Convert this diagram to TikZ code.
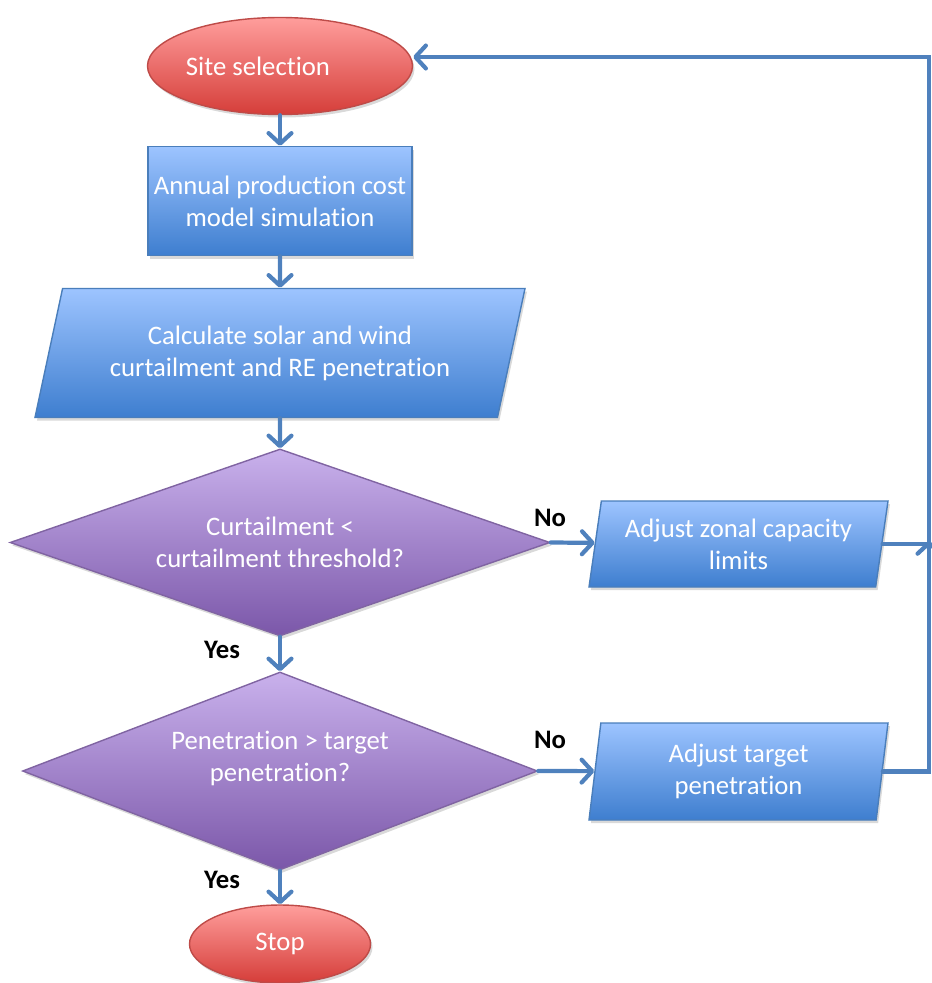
\documentclass[tikz,border=0pt]{standalone}
\usepackage{fontspec}
\setmainfont{Carlito}[Ligatures=CommonOff]
\usetikzlibrary{shapes.geometric,arrows.meta,shadows}

\definecolor{redtop}{HTML}{FF9E9C}
\definecolor{redbot}{HTML}{D53D39}
\definecolor{redline}{HTML}{BE4B48}
\definecolor{bluetop}{HTML}{9DC4FF}
\definecolor{bluebot}{HTML}{3E7ECF}
\definecolor{blueline}{HTML}{4A7EBB}
\definecolor{purptop}{HTML}{C9B1EC}
\definecolor{purpbot}{HTML}{7B57A9}
\definecolor{purpline}{HTML}{8064A2}
\definecolor{arrblue}{HTML}{4F81BD}

\newcommand{\boxfont}{\fontsize{15.2}{18.2}\selectfont}

\tikzset{
  shade/.style={drop shadow={shadow xshift=0.04cm, shadow yshift=-0.06cm, opacity=0.3}},
  startstop/.style={ellipse, draw=redline, line width=0.8pt, top color=redtop, bottom color=redbot,
    text=white, font=\boxfont, inner sep=0pt, shade},
  process/.style={rectangle, draw=blueline, line width=0.8pt, top color=bluetop, bottom color=bluebot,
    text=white, font=\boxfont, align=center, inner sep=0pt, shade},
  io/.style={trapezium, trapezium stretches body=true, draw=blueline, line width=0.8pt,
    top color=bluetop, bottom color=bluebot, text=white, font=\boxfont, align=center, inner sep=0pt, shade},
  decision/.style={diamond, draw=purpline, line width=0.8pt, top color=purptop, bottom color=purpbot,
    text=white, font=\boxfont, align=center, inner sep=0pt, shade},
  inner text/.style={text=white, font=\boxfont, align=center},
  arr/.style={arrblue, line width=2.4pt, line cap=round, -{Straight Barb[length=6pt,width=13pt,round]}},
  lbl/.style={font=\boxfont\bfseries, text=black}
}

\begin{document}
\begin{tikzpicture}
	\useasboundingbox (0,0) rectangle (18.62,-19.66);
	% main column
	\node[startstop, minimum width=5.3cm, minimum height=1.94cm,
	  label={[inner text, xshift=-0.44cm]center:Site selection}] (site) at (5.6,-1.32) {};
	\node[process, minimum width=5.28cm, minimum height=2.18cm] (annual) at (5.6,-4.02) {Annual production cost\\model simulation};
	\node[io, trapezium left angle=63.3, trapezium right angle=116.7, minimum width=9.8cm, minimum height=2.58cm] (calc) at (5.6,-7.06) {Calculate solar and wind\\curtailment and RE penetration};
	\node[decision, shape aspect=2.89, minimum width=10.8cm, minimum height=3.74cm] (curt) at (5.6,-10.85) {Curtailment <\\curtailment threshold?};
	\node[decision, shape aspect=2.6, minimum width=10.3cm, minimum height=3.96cm,
	  label={[inner text, yshift=0.26cm]center:Penetration > target\\penetration?}] (pen) at (5.6,-15.42) {};
	\node[startstop, minimum width=3.62cm, minimum height=1.56cm] (stop) at (5.6,-18.88) {Stop};
	% side boxes
	\node[io, trapezium left angle=76.3, trapezium right angle=103.7, minimum width=5.98cm, minimum height=1.72cm] (zonal) at (14.77,-10.88) {Adjust zonal capacity\\limits};
	\node[io, trapezium left angle=77.8, trapezium right angle=102.2, minimum width=5.98cm, minimum height=1.94cm] (target) at (14.77,-15.43) {Adjust target\\penetration};
	\coordinate (fb) at (18.58,-1.14);
	% labels
	\node[lbl] (no1) at (11.0,-10.36) {No};
	\node[lbl] (yes1) at (4.44,-13.0) {Yes};
	\node[lbl] (no2) at (11.0,-14.8) {No};
	\node[lbl] (yes2) at (4.44,-17.6) {Yes};
	% connectors
	\draw[arr] (site) -- (annual);
	\draw[arr] (annual) -- (calc);
	\draw[arr] (calc) -- (curt);
	\draw[arr] (curt) -- (pen);
	\draw[arr] (pen) -- (stop);
	\draw[arr] (curt.east) -- (zonal);
	\draw[arr] (pen.east) -- (target);
	\draw[arr] (target.east) -| (fb) -- (site.east |- fb);
	\draw[arr] (zonal.east) -| ([yshift=0.06cm]fb |- zonal.east);
\end{tikzpicture}
\end{document}
